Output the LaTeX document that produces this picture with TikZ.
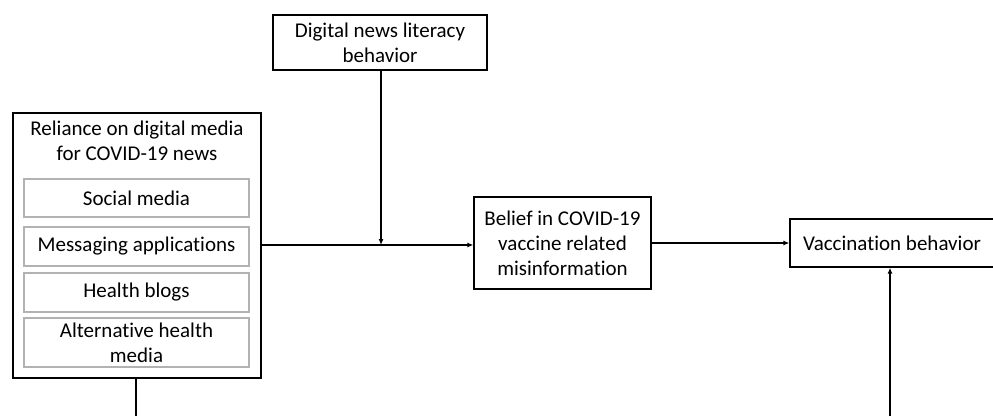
\documentclass[tikz,border=0pt]{standalone}
\usepackage{fontspec}
\setmainfont[Ligatures=NoCommon]{Carlito}
\usetikzlibrary{positioning, arrows.meta}

\tikzset{
  box/.style={draw, line width=1.2pt, align=center, inner sep=2pt},
  subbox/.style={draw=gray!60, line width=1.2pt, align=center, minimum width=225pt, inner sep=1pt},
  link/.style={line width=1.2pt},
  arr/.style={line width=1.2pt, -{Latex[length=6pt,width=5pt]}}
}

\begin{document}
\begin{tikzpicture}[x=1pt, y=-1pt, font=\fontsize{21}{25}\selectfont]
  \useasboundingbox (0,0) rectangle (993,416);
  \node[box, minimum width=248pt, minimum height=265pt] (rel) at (137,245.5) {};
  \node[align=center] (relT) at (137,141) {Reliance on digital media\\for COVID-19 news};
  \node[subbox, minimum height=38pt] (soc) at (136.5,198) {Social media};
  \node[subbox, minimum height=39pt] (msg) at (136.5,246.5) {Messaging applications};
  \node[subbox, minimum height=39pt] (blog) at (136.5,292.5) {Health blogs};
  \node[subbox, minimum height=49pt] (alt) at (136.5,342.5) {Alternative health\\media};
  \node[box, minimum width=214pt, minimum height=55pt] (lit) at (380,42.5) {Digital news literacy\\behavior};
  \node[box, minimum width=177pt, minimum height=92pt] (bel) at (562.5,243) {Belief in COVID-19\\vaccine related\\misinformation};
  \node[box, minimum width=204pt, minimum height=48pt] (vac) at (892,243) {Vaccination behavior};
  \coordinate (J) at (381,245);
  \coordinate (B1) at (136,416);
  \coordinate (B2) at (890,416);
  \draw[arr] (rel.east |- J) -- (bel.west |- J);
  \draw[arr] (lit.south -| J) -- (J);
  \draw[arr] (bel.east) -- (vac.west);
  \draw[link] (rel.south -| B1) -- (B1);
  \draw[arr] (B2) -- (vac.south -| B2);
\end{tikzpicture}
\end{document}
